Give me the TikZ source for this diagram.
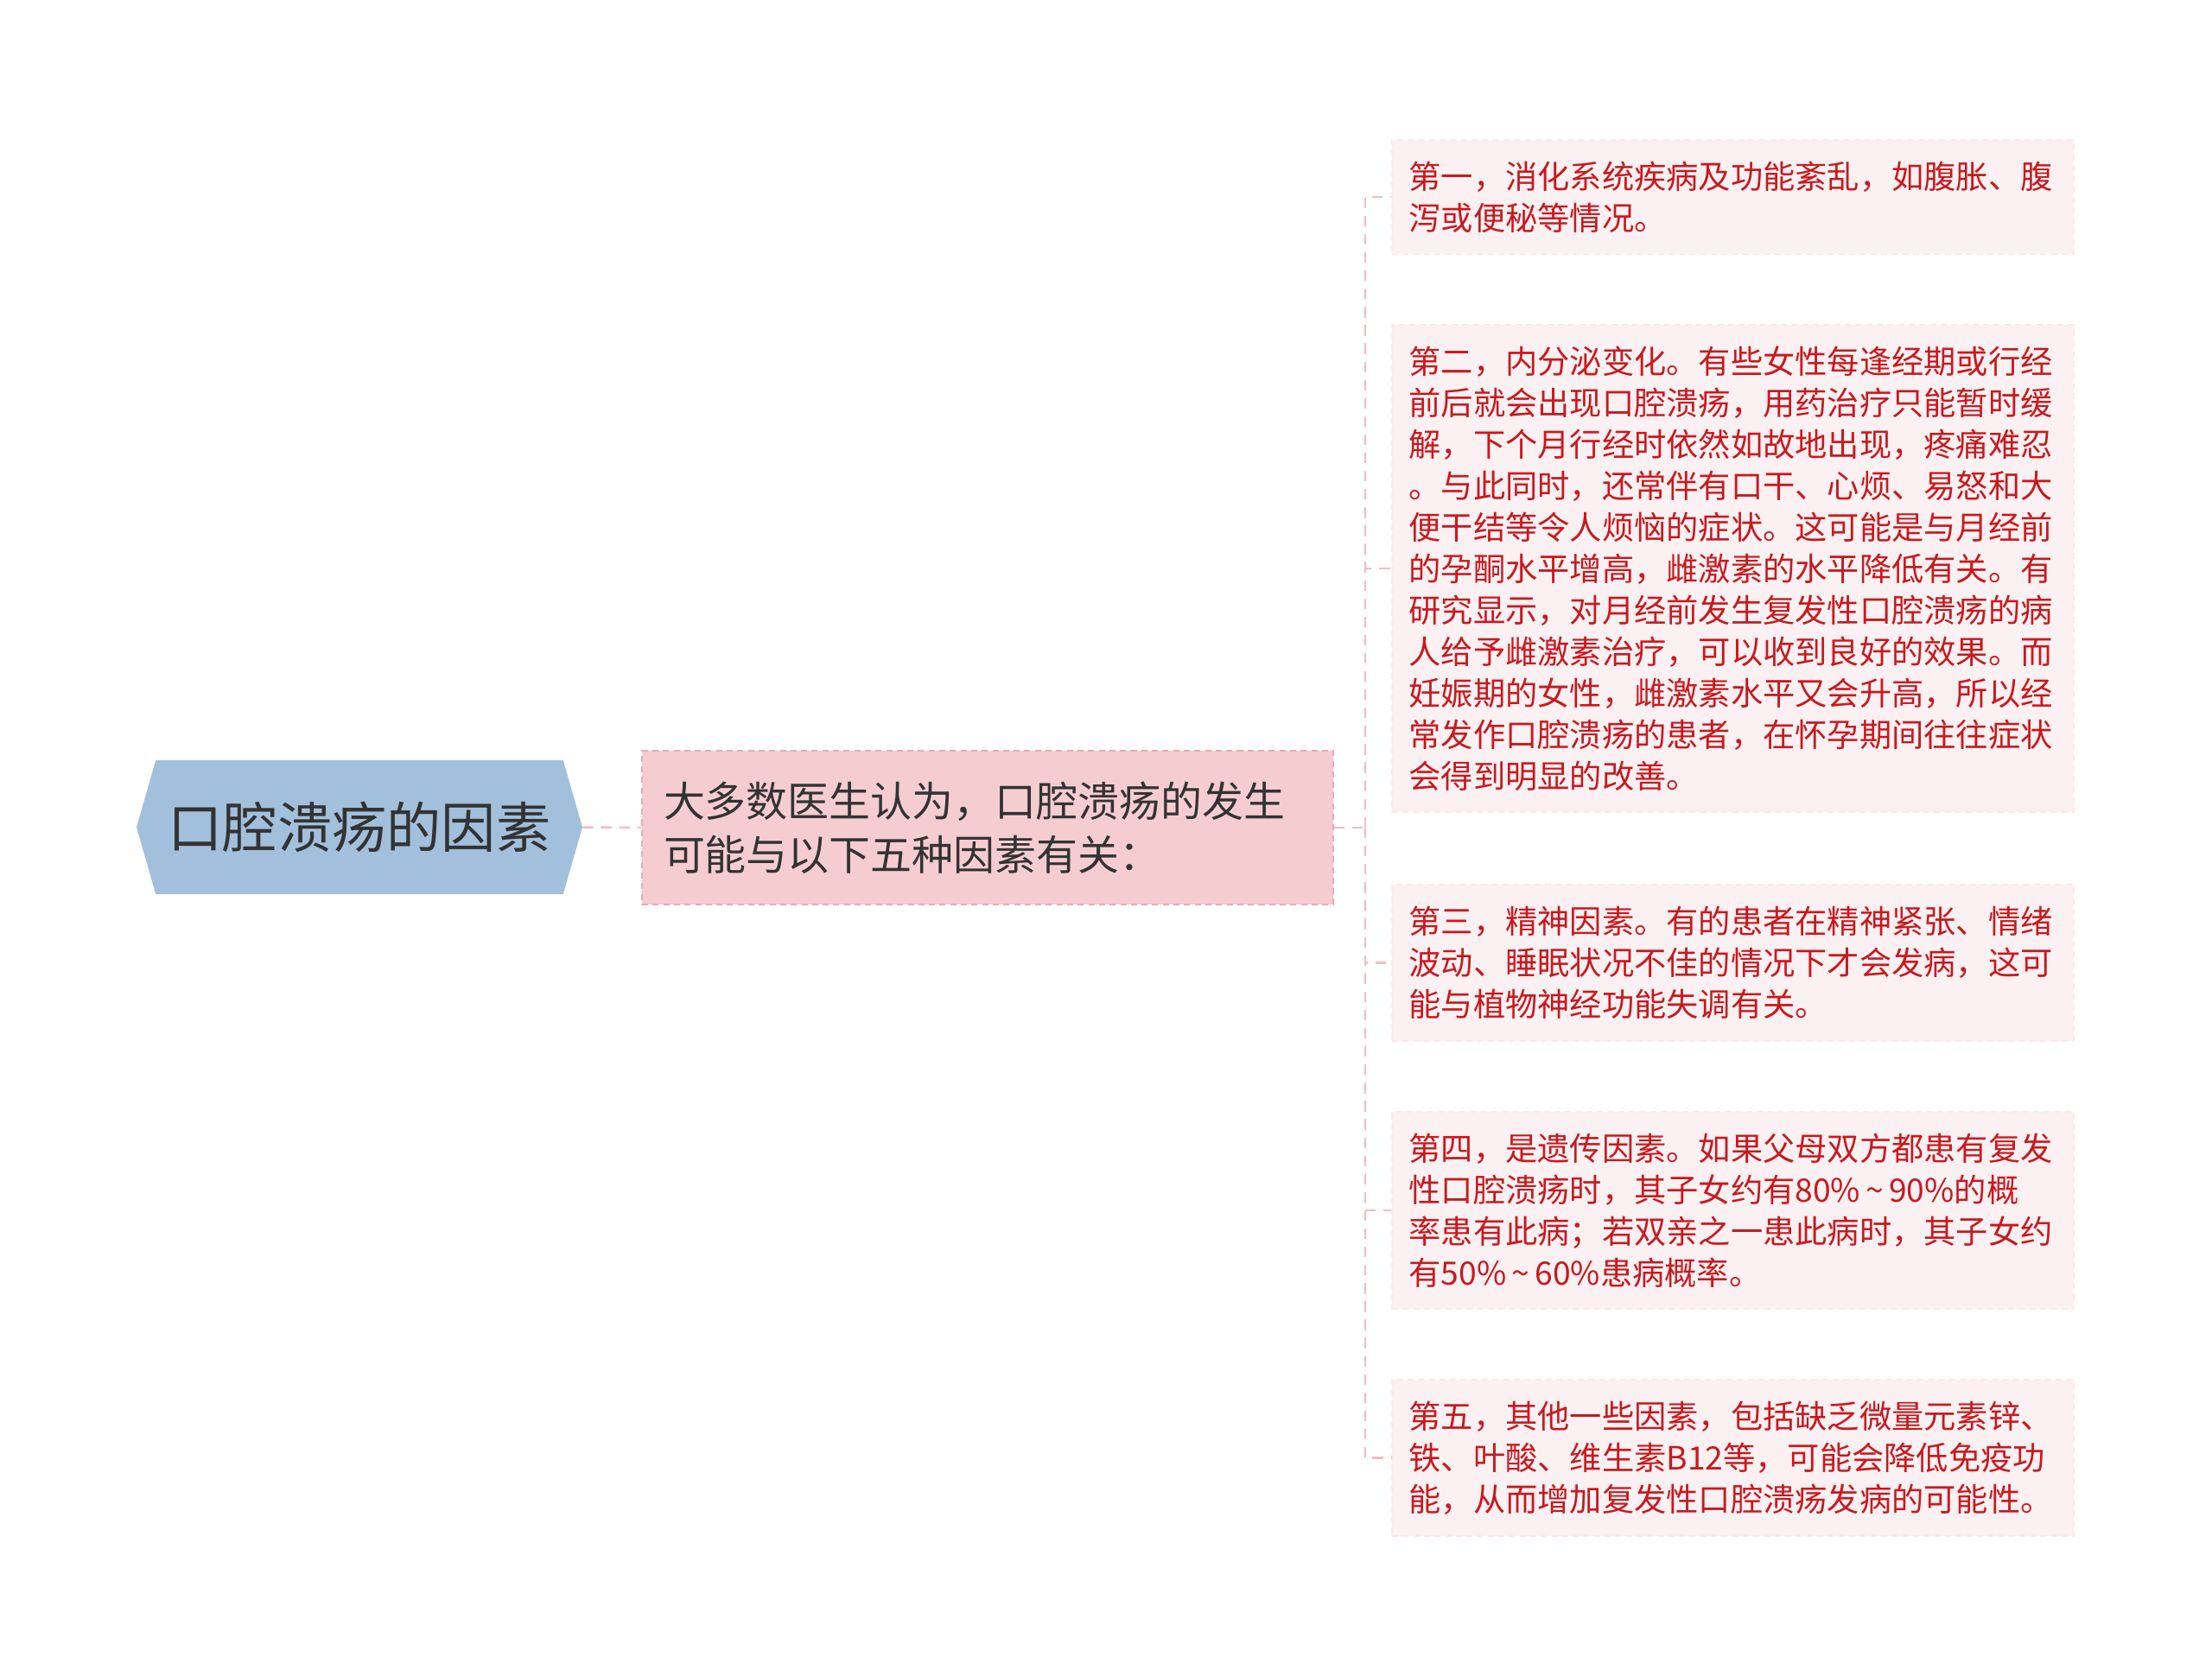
\documentclass[tikz,border=0pt]{standalone}
\usepackage{fontspec}
\setmainfont{Noto Sans CJK SC}
\usepackage{tikz}
\usetikzlibrary{positioning,shapes.symbols}

\definecolor{rootblue}{HTML}{A2C0DC}
\definecolor{darktext}{HTML}{333333}
\definecolor{midpink}{HTML}{F5CDD1}
\definecolor{midline}{HTML}{EBAAB2}
\definecolor{leafpink}{HTML}{FCF1F2}
\definecolor{leafline}{HTML}{F9E9EB}
\definecolor{leafred}{HTML}{C8191F}
\definecolor{linkpink}{HTML}{EFBDC3}

\begin{document}
\begin{tikzpicture}[
	topic/.style={signal, signal to=west and east, signal pointer angle=148, fill=rootblue, minimum width=10.32cm, minimum height=3.1cm, inner sep=0pt, text=darktext, font=\fontsize{36}{40}\selectfont},
	summary/.style={rectangle, fill=midpink, draw=midline, line width=1pt, dash pattern=on 4pt off 3pt, text width=15cm, inner xsep=0.5cm, minimum height=3.56cm, align=left, text=darktext, font=\fontsize{27.3}{35.3}\selectfont},
	factor/.style={rectangle, fill=leafpink, draw=leafline, line width=1pt, dash pattern=on 4pt off 3pt, text width=15cm, inner xsep=0.39cm, inner ysep=0.5cm, align=left, text=leafred, font=\fontsize{21.2}{27.3}\selectfont},
	link/.style={draw=linkpink, line width=1.4pt, dash pattern=on 7pt off 5pt}
]
	\useasboundingbox (0, 0) rectangle (51.2, -38.78);

	\node[topic] (cause) at (8.32, -19.15) {口腔溃疡的因素};
	\node[summary] (doctors) at (22.86, -19.16) {大多数医生认为，口腔溃疡的发生\\可能与以下五种因素有关：};

	\node[factor] (f1) at (40.11, -4.56) {第一，消化系统疾病及功能紊乱，如腹胀、腹\\泻或便秘等情况。};
	\node[factor] (f2) at (40.11, -13.16) {第二，内分泌变化。有些女性每逢经期或行经\\前后就会出现口腔溃疡，用药治疗只能暂时缓\\解，下个月行经时依然如故地出现，疼痛难忍\\。与此同时，还常伴有口干、心烦、易怒和大\\便干结等令人烦恼的症状。这可能是与月经前\\的孕酮水平增高，雌激素的水平降低有关。有\\研究显示，对月经前发生复发性口腔溃疡的病\\人给予雌激素治疗，可以收到良好的效果。而\\妊娠期的女性，雌激素水平又会升高，所以经\\常发作口腔溃疡的患者，在怀孕期间往往症状\\会得到明显的改善。};
	\node[factor] (f3) at (40.11, -22.29) {第三，精神因素。有的患者在精神紧张、情绪\\波动、睡眠状况不佳的情况下才会发病，这可\\能与植物神经功能失调有关。};
	\node[factor] (f4) at (40.11, -28.02) {第四，是遗传因素。如果父母双方都患有复发\\性口腔溃疡时，其子女约有80\%\,\textasciitilde\,90\%的概\\率患有此病；若双亲之一患此病时，其子女约\\有50\%\,\textasciitilde\,60\%患病概率。};
	\node[factor] (f5) at (40.11, -33.75) {第五，其他一些因素，包括缺乏微量元素锌、\\铁、叶酸、维生素B12等，可能会降低免疫功\\能，从而增加复发性口腔溃疡发病的可能性。};

	\coordinate[right=0.72cm of doctors] (fork);

	\draw[link] (cause.east) -- (doctors.west);
	\draw[link] (doctors.east) -- (fork);
	\foreach \n in {1,...,5}
		\draw[link] (fork) |- (f\n.west);
\end{tikzpicture}
\end{document}
